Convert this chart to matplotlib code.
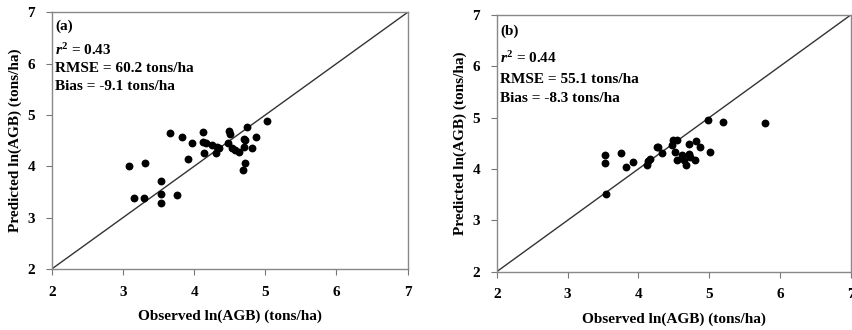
import matplotlib
matplotlib.use("Agg")
import matplotlib.pyplot as plt

plt.rcParams['font.family'] = ['Liberation Serif', 'DejaVu Serif']
plt.rcParams['font.weight'] = 'bold'
plt.rcParams['mathtext.fontset'] = 'custom'
plt.rcParams['mathtext.it'] = 'Liberation Serif:italic:bold'
plt.rcParams['mathtext.rm'] = 'Liberation Serif:bold'
plt.rcParams['mathtext.bf'] = 'Liberation Serif:bold'

# Panel (a) observed / predicted ln(AGB)
obs_a = [3.08, 3.31, 3.66, 3.83, 3.97, 3.92, 4.12, 4.13, 4.17, 4.14, 4.25, 4.32,
         4.31, 4.35, 4.47, 4.49, 4.50, 4.53, 4.57, 4.63, 4.74, 4.70, 4.72, 4.70,
         4.81, 4.87, 4.71, 4.69, 5.02, 3.16, 3.30, 3.53, 3.54, 3.53, 3.76]
pred_a = [4.01, 4.07, 4.64, 4.58, 4.45, 4.15, 4.67, 4.48, 4.46, 4.25, 4.41, 4.38,
          4.26, 4.35, 4.45, 4.69, 4.62, 4.35, 4.32, 4.28, 4.77, 4.54, 4.51, 4.38,
          4.36, 4.58, 4.06, 3.93, 4.89, 3.39, 3.39, 3.72, 3.47, 3.29, 3.44]

# Panel (b)
obs_b = [3.53, 3.53, 3.54, 3.76, 3.82, 3.92, 4.14, 4.17, 4.12, 4.26, 4.28, 4.33,
         4.49, 4.55, 4.47, 4.72, 4.82, 4.87, 5.01, 4.52, 4.61, 4.71, 4.54, 4.64,
         4.80, 4.68, 4.73, 4.98, 5.19, 5.79]
pred_b = [4.27, 4.12, 3.51, 4.32, 4.04, 4.14, 4.16, 4.20, 4.08, 4.43, 4.43, 4.32,
          4.56, 4.56, 4.47, 4.48, 4.54, 4.43, 4.34, 4.34, 4.27, 4.30, 4.17, 4.17,
          4.17, 4.08, 4.24, 4.95, 4.92, 4.90]

panel_labels = ['(a)', '(b)']
stats_r2 = ['0.43', '0.44']
stats_rmse = ['60.2', '55.1']
stats_bias = ['-9.1', '-8.3']
ticks = [2, 3, 4, 5, 6, 7]

fig = plt.figure(figsize=(8.52, 3.30), dpi=100)
ax_a = fig.add_axes([0.0607, 0.1848, 0.4178, 0.778])
ax_b = fig.add_axes([0.5830, 0.1767, 0.4155, 0.778])

text_y = [[6.73, 6.27, 5.91, 5.56], [6.69, 6.16, 5.75, 5.38]]

for i, (ax, xs, ys) in enumerate([(ax_a, obs_a, pred_a), (ax_b, obs_b, pred_b)]):
    ax.plot([2, 7], [2, 7], color='#333333', lw=1.0, zorder=2)
    ax.scatter(xs, ys, s=32, color='black', zorder=3, linewidths=0)
    ax.set_xlim(2, 7)
    ax.set_ylim(2, 7)
    ax.set_xticks(ticks)
    ax.set_yticks(ticks)
    ax.set_xticklabels([str(t) for t in ticks], fontsize=11, fontweight='bold')
    ax.set_yticklabels([str(t) for t in ticks], fontsize=11, fontweight='bold')
    ax.tick_params(direction='out', length=4, width=0.8, color='#777777', pad=8)
    for sp in ax.spines.values():
        sp.set_color('#888888')
        sp.set_linewidth(1.0)
    ax.set_xlabel('Observed ln(AGB) (tons/ha)', fontsize=11, fontweight='bold', labelpad=8)
    ax.set_ylabel('Predicted ln(AGB) (tons/ha)', fontsize=11, fontweight='bold', labelpad=4)
    ty = text_y[i]
    ax.text(2.05, ty[0], panel_labels[i], fontsize=11, fontweight='bold', va='center')
    ax.text(2.05, ty[1], r'$r^2$ = ' + stats_r2[i], fontsize=11, fontweight='bold', va='center')
    ax.text(2.05, ty[2], 'RMSE = ' + stats_rmse[i] + ' tons/ha', fontsize=11, fontweight='bold', va='center')
    ax.text(2.05, ty[3], 'Bias = ' + stats_bias[i] + ' tons/ha', fontsize=11, fontweight='bold', va='center')

fig.savefig('out.png', dpi=100)
